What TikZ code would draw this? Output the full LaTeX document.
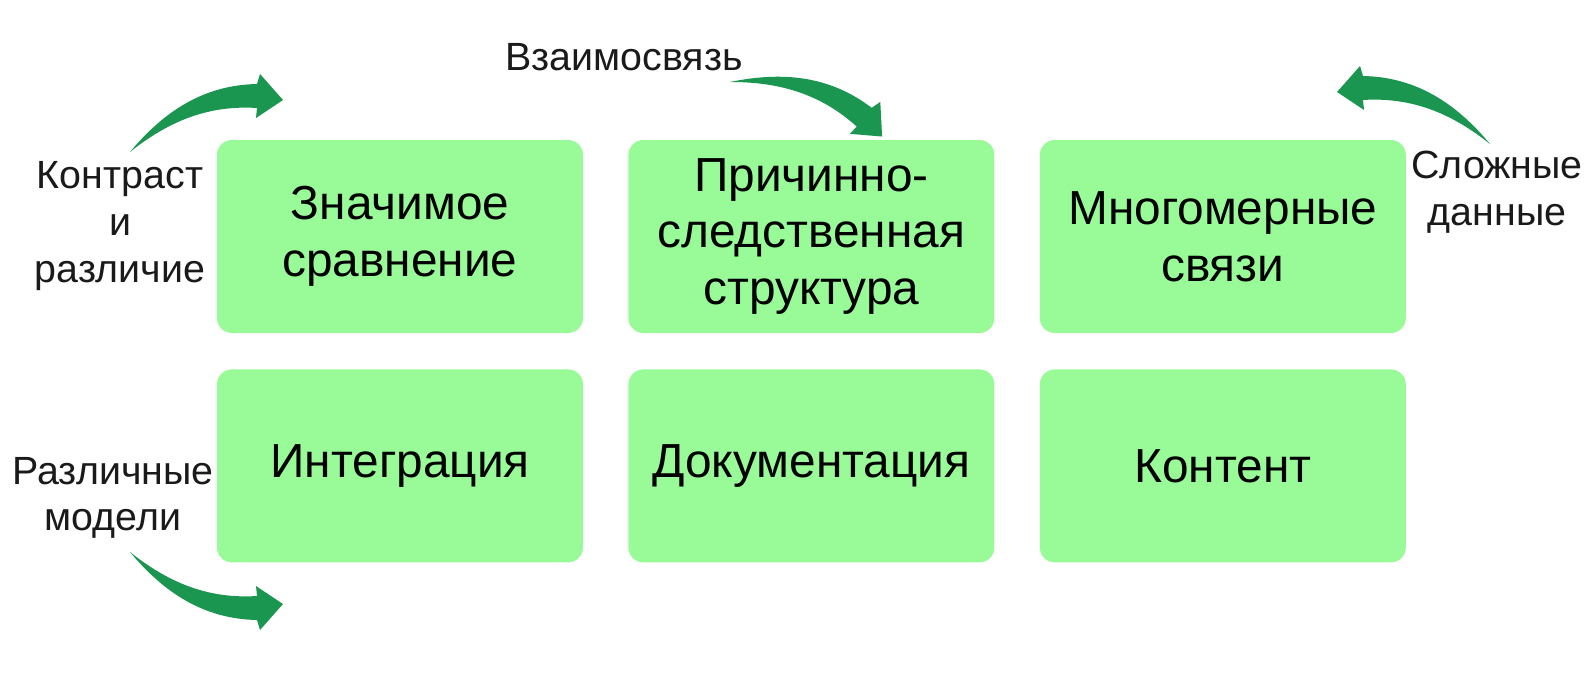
\documentclass[tikz,border=0pt]{standalone}
\usepackage{fontspec}
\setmainfont{Liberation Sans}
\usepackage{xcolor}
\usepackage{tikz}
\usetikzlibrary{positioning}
\definecolor{boxgreen}{HTML}{98FB98}
\definecolor{arrowgreen}{RGB}{26,150,80}
\definecolor{labelgray}{HTML}{1A1A1A}

\begin{document}
\begin{tikzpicture}
            [
                node distance=0.35cm and 0.44cm,
                font=\fontsize{13.6}{16.2}\selectfont
            ]
            \tikzset{
                topicbox/.style = {rectangle, fill=boxgreen, rounded corners=0.15cm, align=center,
                                   minimum width=3.66cm, minimum height=1.93cm, inner sep=0pt},
                sidelabel/.style = {align=center, text=labelgray, inner sep=0pt,
                                    font=\fontsize{11.2}{13.3}\selectfont},
                bentarrow/.pic = {
                    \fill[arrowgreen] (0,0) .. controls (0.35,0.42) and (0.75,0.67) .. (1.27,0.68)
                        -- (1.30,0.78) -- (1.53,0.52) -- (1.26,0.34) -- (1.27,0.44)
                        .. controls (0.80,0.47) and (0.40,0.32) .. cycle;
                }
            }
            \path[fill=white] (0,0) rectangle (15.88,6.72);
            \useasboundingbox (0,0) rectangle (15.88,6.72);

            \node[topicbox] (SC) at (4.00,4.355) {Значимое\\сравнение};
            \node[topicbox, right=of SC] (CE) {Причинно-\\следственная\\структура};
            \node[topicbox, right=of CE] (MR) {Многомерные\\связи};
            \node[topicbox, below=of SC] (IN) {Интеграция};
            \node[topicbox, below=of CE] (DO) {Документация};
            \node[topicbox, below=of MR] (KO) {Контент};

            \node[sidelabel] (contrast) at (1.20,4.46) {Контраст\\и\\различие};
            \node[sidelabel] (models) at (1.13,1.74) {Различные\\модели};
            \node[sidelabel] (link) at (6.24,6.15) {Взаимосвязь};
            \node[sidelabel] (complex) at (14.97,4.80) {Сложные\\данные};

            \coordinate (contrastTail) at (1.30,5.20);
            \coordinate (modelsTail) at (1.30,1.20);
            \coordinate (linkTail) at (7.30,5.90);
            \coordinate (complexTail) at (14.90,5.28);

            \pic at (contrastTail) {bentarrow};
            \pic[yscale=-1] at (modelsTail) {bentarrow};
            \pic[rotate=-38.5] at (linkTail) {bentarrow};
            \pic[xscale=-1] at (complexTail) {bentarrow};
\end{tikzpicture}
\end{document}
